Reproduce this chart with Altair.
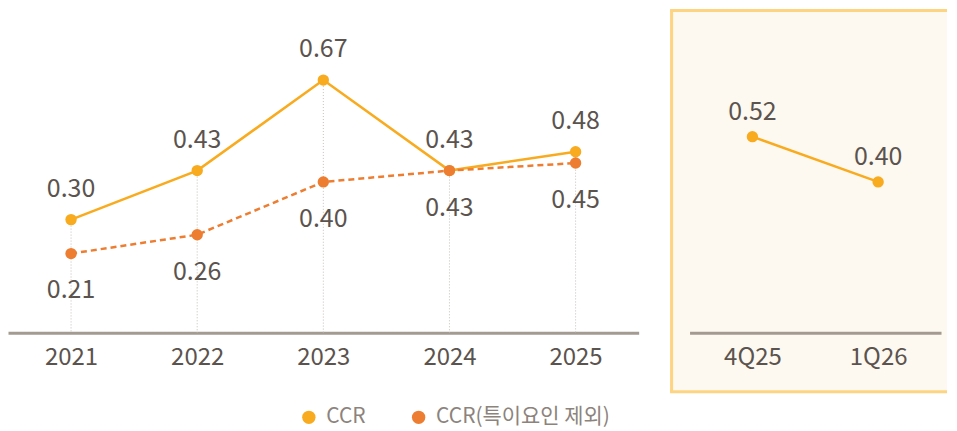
import altair as alt
import pandas as pd

FONT = "Noto Sans CJK KR"
TEXT = "#5b534e"
C_CCR = "#f9ab1f"
C_EX = "#ed7d31"

years = ["2021", "2022", "2023", "2024", "2025"]
ccr = [0.30, 0.43, 0.67, 0.43, 0.48]
ccr_ex = [0.21, 0.26, 0.40, 0.43, 0.45]
series = ["CCR", "CCR(특이요인 제외)"]

quarters = ["4Q25", "1Q26"]
ccr_q = [0.52, 0.40]

df = pd.DataFrame({
    "year": years * 2,
    "series": [series[0]] * 5 + [series[1]] * 5,
    "value": ccr + ccr_ex,
})
dfq = pd.DataFrame({"q": quarters, "value": ccr_q})
frame = pd.DataFrame({"a": [0]})

ydom = [0, 0.86]
H = 325
LBL = 25
AX = 24

x_left = alt.X("year:O", sort=years, scale=alt.Scale(type="point", padding=0.5),
               axis=alt.Axis(title=None, labelAngle=0, domainColor="#a39a92", domainWidth=3,
                             ticks=False, labelFontSize=AX, labelColor=TEXT, labelPadding=13,
                             labelFont=FONT, grid=False))
y_sc = alt.Y("value:Q", scale=alt.Scale(domain=ydom), axis=None)

base = alt.Chart(df)

rules = alt.Chart(df).mark_rule(color="#c4c0bc", strokeWidth=1, strokeDash=[1, 2]).encode(
    x=x_left, y=alt.Y("max(value):Q", scale=alt.Scale(domain=ydom), axis=None), y2=alt.datum(0)
)

line_ccr = base.transform_filter(alt.datum.series == series[0]).mark_line(
    strokeWidth=2.5, color=C_CCR).encode(x=x_left, y=y_sc)
line_ex = base.transform_filter(alt.datum.series == series[1]).mark_line(
    strokeWidth=2.5, color=C_EX, strokeDash=[6, 4]).encode(x=x_left, y=y_sc)

points = base.mark_circle(size=130, opacity=1).encode(
    x=x_left, y=y_sc,
    color=alt.Color("series:N", sort=series, scale=alt.Scale(domain=series, range=[C_CCR, C_EX]),
                    legend=alt.Legend(orient="none", legendX=291, legendY=399, direction="horizontal",
                                      title=None, labelFontSize=21, labelColor="#8c837c", labelFont=FONT,
                                      symbolType="circle", symbolSize=180, symbolStrokeWidth=0,
                                      columnPadding=42, labelOffset=7, labelLimit=400)),
)

lab_top = base.transform_filter(alt.datum.series == series[0]).mark_text(
    dy=-31, fontSize=LBL, font=FONT, color=TEXT).encode(
    x=x_left, y=y_sc, text=alt.Text("value:Q", format=".2f"))
lab_bot = base.transform_filter(alt.datum.series == series[1]).mark_text(
    dy=37, fontSize=LBL, font=FONT, color=TEXT).encode(
    x=x_left, y=y_sc, text=alt.Text("value:Q", format=".2f"))

left = alt.layer(rules, line_ccr, line_ex, points, lab_top, lab_bot).properties(width=632, height=H)

# right panel
x_right = alt.X("q:O", sort=quarters, scale=alt.Scale(type="point", padding=0.5),
                axis=alt.Axis(title=None, labelAngle=0, domainColor="#a39a92", domainWidth=3,
                              ticks=False, labelFontSize=AX, labelColor=TEXT, labelPadding=13,
                              labelFont=FONT, grid=False, zindex=1))
y_r = alt.Y("value:Q", scale=alt.Scale(domain=ydom), axis=None)

BC = "#fdd481"
bg = alt.Chart(frame).mark_rect(fill="#fdf9f1").encode(
    x=alt.value(-18), x2=alt.value(258), y=alt.value(2), y2=alt.value(384))
b_top = alt.Chart(frame).mark_rule(color=BC, strokeWidth=3).encode(
    x=alt.value(-19.5), x2=alt.value(258), y=alt.value(2))
b_left = alt.Chart(frame).mark_rule(color=BC, strokeWidth=3).encode(
    x=alt.value(-18), y=alt.value(2), y2=alt.value(384))
b_bot = alt.Chart(frame).mark_rule(color=BC, strokeWidth=3).encode(
    x=alt.value(-19.5), x2=alt.value(258), y=alt.value(384))

rq = alt.Chart(dfq)
r_line = rq.mark_line(color=C_CCR, strokeWidth=2.5).encode(x=x_right, y=y_r)
r_pts = rq.mark_circle(color=C_CCR, size=130, opacity=1).encode(x=x_right, y=y_r)
r_lab = rq.mark_text(dy=-25, fontSize=LBL, font=FONT, color=TEXT).encode(
    x=x_right, y=y_r, text=alt.Text("value:Q", format=".2f"))

right = alt.layer(bg, b_top, b_left, b_bot, r_line, r_pts, r_lab).properties(width=252, height=H)

chart = alt.hconcat(left, right, spacing=51, bounds="flush").properties(padding=0).configure_view(stroke=None)

chart.save("out.html", embed_options={"renderer": "svg", "actions": False})
